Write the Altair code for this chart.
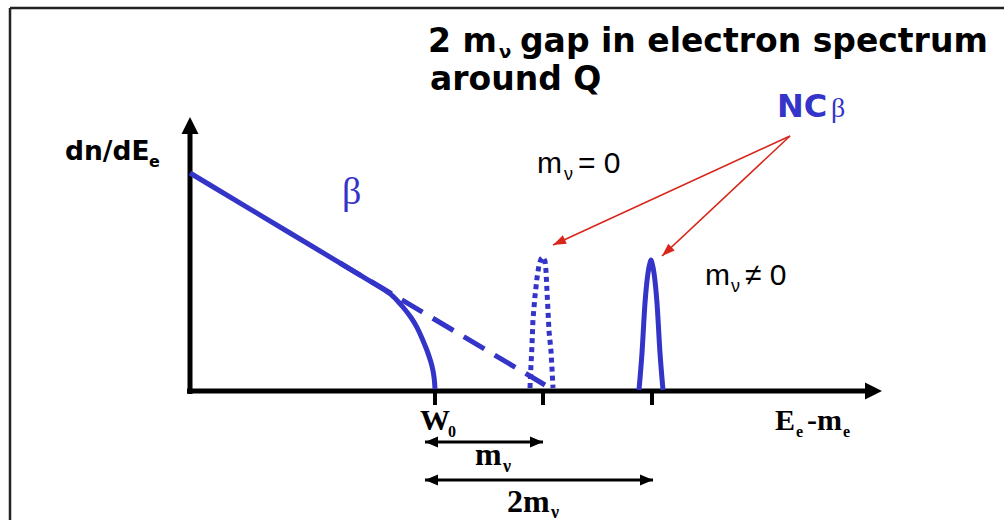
import altair as alt
import pandas as pd
import numpy as np

BLUE = "#3434C8"
RED = "#D8261A"
BLACK = "#000000"

# ---- diagram coordinates: x = energy offset from axis origin, y = dn/dE offset ----
# beta spectrum (solid, with neutrino mass)
beta_x = [0, 110, 170, 193, 203, 213, 221, 227, 232, 237, 241, 243, 244.5, 245]
beta_y = [218, 152, 116, 102, 95.6, 84, 74, 64, 53, 41, 29, 21, 11, 2]

# massless continuation (dashed)
dash_x = [150, 355]
dash_y = [128, 6]

# NCbeta peak for m_nu = 0 (dotted)
peak0_x = [340, 341, 342, 343, 345, 347, 349, 351, 353, 355, 356, 357, 358, 359, 361, 362, 363]
peak0_y = [3, 26, 46, 72, 95, 113, 126, 132, 134, 130, 120, 100, 80, 60, 40, 22, 3]

# NCbeta peak for m_nu != 0 (solid)
peak1_x = [449, 452, 455, 458, 460, 461, 462, 464, 467, 470, 473]
peak1_y = [1, 38, 88, 118, 128, 131, 128, 118, 88, 38, 1]

# tick positions on energy axis: W0, W0+m, W0+2m
tick_x = [245, 353, 462]

# axes
axis_end = [692, 274]          # x tip, y tip
frame_left = -180
frame_top = 383
x_min, x_max = -190, 814
y_min, y_max = -129, 391

# red pointer arrows from the NCbeta label
pointer_origin = [600, 255]
pointer_tips_x = [363, 472]
pointer_tips_y = [146, 135]

# double arrows m_nu and 2 m_nu
gap_from = 235
gap_to = [353, 463]
gap_y = [-51, -89]

xs = alt.Scale(domain=[x_min, x_max], nice=False, zero=False)
ys = alt.Scale(domain=[y_min, y_max], nice=False, zero=False)


def X(f="x"):
    return alt.X(f"{f}:Q", scale=xs, axis=None)


def Y(f="y"):
    return alt.Y(f"{f}:Q", scale=ys, axis=None)


def rules(df, color, width, dash=None):
    kw = dict(color=color, strokeWidth=width, strokeCap="butt")
    if dash:
        kw["strokeDash"] = dash
    return alt.Chart(df).mark_rule(**kw).encode(
        x=X("x"), y=Y("y"), x2=alt.X2("x2:Q"), y2=alt.Y2("y2:Q")
    )


def line(xv, yv, color, width, dash=None, interp="monotone"):
    df = pd.DataFrame({"x": xv, "y": yv, "i": range(len(xv))})
    kw = dict(color=color, strokeWidth=width, strokeCap="butt", strokeJoin="round",
              interpolate=interp)
    if dash:
        kw["strokeDash"] = dash
    return alt.Chart(df).mark_line(**kw).encode(x=X(), y=Y(), order="i:Q")


def heads(tx, ty, fx, fy, color, path, size):
    tx, ty, fx, fy = map(np.asarray, (tx, ty, fx, fy))
    ang = (np.degrees(np.arctan2(tx - fx, ty - fy)) + 360) % 360
    df = pd.DataFrame({"x": tx, "y": ty, "angle": ang})
    return alt.Chart(df).mark_point(
        shape=path, filled=True, fill=color, strokeWidth=0, opacity=1, size=size
    ).encode(x=X(), y=Y(), angle=alt.Angle("angle:Q", scale=None))


def texts(items, font, size, weight="normal", color=BLACK):
    df = pd.DataFrame(items, columns=["x", "y", "t"])
    return alt.Chart(df).mark_text(
        font=font, fontSize=size, fontWeight=weight, color=color,
        align="left", baseline="alphabetic"
    ).encode(x=X(), y=Y(), text="t:N")


# frame (left and top edges)
frame = rules(pd.DataFrame({
    "x": [frame_left, frame_left], "y": [y_min, frame_top],
    "x2": [frame_left, x_max], "y2": [frame_top, frame_top]}), "#222222", 2.5)

# axes
axes = rules(pd.DataFrame({
    "x": [-3, 0], "y": [0, -3],
    "x2": [axis_end[0] - 12, 0], "y2": [0, axis_end[1] - 12]}), BLACK, 5)
axis_heads = heads([axis_end[0], 0], [0, axis_end[1]], [0, 0], [0, 0],
                   BLACK, "M0,0 L-0.5,1 L0.5,1 Z", 1156)

ticks = rules(pd.DataFrame({
    "x": tick_x, "y": [0] * 3, "x2": tick_x, "y2": [-14] * 3}), BLACK, 4)

beta = line(beta_x, beta_y, BLUE, 5, interp="basis")
dashed = line(dash_x, dash_y, BLUE, 5, dash=[24, 12], interp="linear")
peak0 = line(peak0_x, peak0_y, BLUE, 5, dash=[5, 4], interp="linear")
peak1 = line(peak1_x, peak1_y, BLUE, 5)

# red pointers
pointers = rules(pd.DataFrame({
    "x": [pointer_origin[0]] * 2, "y": [pointer_origin[1]] * 2,
    "x2": pointer_tips_x, "y2": pointer_tips_y}), RED, 1.6)
pointer_heads = heads(pointer_tips_x, pointer_tips_y,
                      [pointer_origin[0]] * 2, [pointer_origin[1]] * 2,
                      RED, "M0,0 L-0.36,1 L0.36,1 Z", 676)

# double-headed gap arrows
gaps = rules(pd.DataFrame({
    "x": [gap_from] * 2, "y": gap_y, "x2": gap_to, "y2": gap_y}), BLACK, 3)
gap_heads = heads([gap_from, gap_from] + gap_to, gap_y + gap_y,
                  [gap_from + 10, gap_from + 10] + [g - 10 for g in gap_to], gap_y + gap_y,
                  BLACK, "M0,0 L-0.42,1 L0.42,1 Z", 676)

# text
title = texts([(238, 339, "2 m"), (330, 339, "gap in electron spectrum"),
               (240, 301, "around Q")], "DejaVu Sans", 33, "bold")
title_sub = texts([(309, 333, "ν")], "DejaVu Sans", 18, "bold")
ylab = texts([(-125, 231, "dn/dE")], "DejaVu Sans", 26.5, "bold")
ylab_sub = texts([(-41, 224, "e")], "DejaVu Sans", 16, "bold")
nc = texts([(587, 274, "NC")], "DejaVu Sans", 32, "bold", BLUE)
nc_beta = texts([(641, 274, "β")], "Liberation Serif", 28, "normal", BLUE)
beta_lab = texts([(152, 187, "β")], "Liberation Serif", 38, "normal", BLUE)
mass_lab = texts([(347, 218, "m"), (388, 218, "= 0"),
                  (515, 106, "m"), (555, 106, "≠ 0")], "Liberation Sans", 30)
mass_sub = texts([(374, 211, "ν"), (541, 99, "ν")], "Liberation Sans", 18)
axis_lab = texts([(230, -39, "W"), (585, -39, "E"), (617, -39, "-m")],
                 "Liberation Serif", 30, "bold")
axis_sub = texts([(258, -46, "0"), (606, -46, "e"), (653, -46, "e")],
                 "Liberation Serif", 16, "bold")
gap_lab = texts([(285, -74, "m"), (317, -121, "2m")], "Liberation Serif", 32, "bold")
gap_sub = texts([(313, -81, "ν"), (361, -127, "ν")], "Liberation Serif", 18, "bold")

chart = alt.layer(
    frame, axes, axis_heads, ticks, dashed, beta, peak0, peak1,
    pointers, pointer_heads, gaps, gap_heads,
    title, title_sub, ylab, ylab_sub, nc, nc_beta, beta_lab,
    mass_lab, mass_sub, axis_lab, axis_sub, gap_lab, gap_sub
).properties(
    width=1004, height=520, padding=0, autosize=alt.AutoSizeParams(type="none"),
    background="white"
).configure_view(stroke=None)

chart.save("out.html", embed_options={"renderer": "svg", "actions": False})
